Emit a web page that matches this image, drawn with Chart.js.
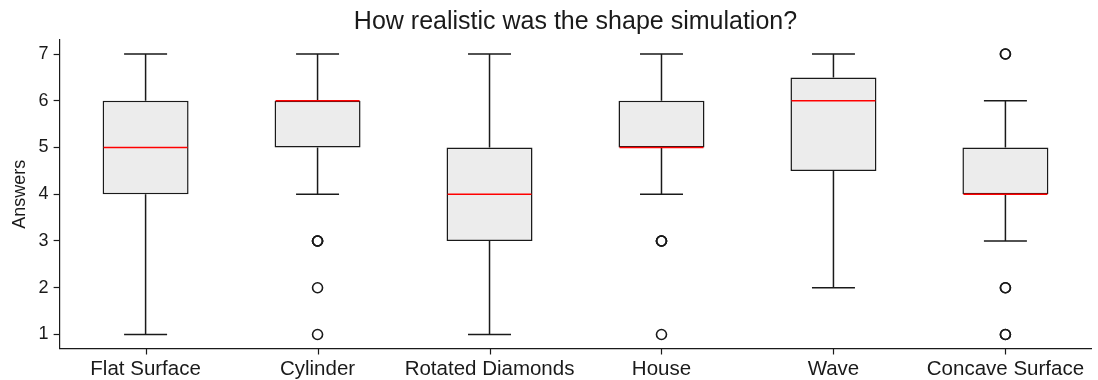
<!DOCTYPE html>
<html>
<head>
<meta charset="utf-8">
<script src="https://cdn.jsdelivr.net/npm/chart.js@4.4.1/dist/chart.umd.min.js"></script>
<style>
  html, body { margin: 0; padding: 0; background: #fff; }
  #wrap { width: 1098px; height: 380px; }
</style>
</head>
<body>
<div id="wrap"><canvas id="chartShapes"></canvas></div>
<script>
const shapes = ['Flat Surface', 'Cylinder', 'Rotated Diamonds', 'House', 'Wave', 'Concave Surface'];
const whiskerLow = [1, 4, 1, 4, 2, 3];
const quartile1 = [4, 5, 3, 5, 4.5, 4];
const medians = [5, 6, 4, 5, 6, 4];
const quartile3 = [6, 6, 5, 6, 6.5, 5];
const whiskerHigh = [7, 7, 7, 7, 7, 6];
const outliers = [
    [],
    [3, 3, 3, 2, 1],
    [],
    [3, 3, 3, 1],
    [],
    [7, 7, 2, 2, 1, 1]
];
const yTicks = [1, 2, 3, 4, 5, 6, 7];

const FONT = '"Liberation Sans", Arial, sans-serif';

const outlierPoints = [];
outliers.forEach((vals, i) => {
    vals.forEach(v => outlierPoints.push({ x: shapes[i], y: v }));
});

// whiskers, caps, median lines and x tick marks drawn from the axis scales
const boxLines = {
    id: 'boxLines',
    beforeDatasetsDraw(chart) {
        const { ctx, scales: { x, y } } = chart;
        const step = x.getPixelForValue(1) - x.getPixelForValue(0);
        ctx.save();
        ctx.strokeStyle = '#1a1a1a';
        ctx.lineWidth = 1.5;
        shapes.forEach((s, i) => {
            const cx = x.getPixelForValue(i);
            const cap = step * 0.125;
            ctx.beginPath();
            ctx.moveTo(cx, y.getPixelForValue(whiskerLow[i]));
            ctx.lineTo(cx, y.getPixelForValue(quartile1[i]));
            ctx.moveTo(cx, y.getPixelForValue(quartile3[i]));
            ctx.lineTo(cx, y.getPixelForValue(whiskerHigh[i]));
            ctx.moveTo(cx - cap, y.getPixelForValue(whiskerLow[i]));
            ctx.lineTo(cx + cap, y.getPixelForValue(whiskerLow[i]));
            ctx.moveTo(cx - cap, y.getPixelForValue(whiskerHigh[i]));
            ctx.lineTo(cx + cap, y.getPixelForValue(whiskerHigh[i]));
            ctx.stroke();
        });
        ctx.restore();
    },
    afterDatasetsDraw(chart) {
        const { ctx, chartArea, scales: { x, y } } = chart;
        const meta = chart.getDatasetMeta(0);
        ctx.save();
        ctx.strokeStyle = '#ff0000';
        ctx.lineWidth = 1.5;
        meta.data.forEach((bar, i) => {
            const half = bar.width / 2;
            const my = y.getPixelForValue(medians[i]);
            ctx.beginPath();
            ctx.moveTo(bar.x - half + 1, my);
            ctx.lineTo(bar.x + half - 1, my);
            ctx.stroke();
        });
        ctx.strokeStyle = '#1a1a1a';
        ctx.lineWidth = 1.2;
        shapes.forEach((s, i) => {
            const cx = Math.round(x.getPixelForValue(i)) + 0.5;
            ctx.beginPath();
            ctx.moveTo(cx, chartArea.bottom);
            ctx.lineTo(cx, chartArea.bottom + 6);
            ctx.stroke();
        });
        ctx.restore();
    }
};

const ctxShapes = document.getElementById('chartShapes').getContext('2d');
new Chart(ctxShapes, {
    type: 'bar',
    data: {
        labels: shapes,
        datasets: [{
            label: 'IQR',
            data: shapes.map((s, i) => [quartile1[i], quartile3[i]]),
            backgroundColor: '#ececec',
            borderColor: '#1a1a1a',
            borderWidth: 1.5,
            borderSkipped: false,
            barPercentage: 0.5,
            categoryPercentage: 1,
            order: 1
        }, {
            type: 'scatter',
            label: 'Outliers',
            data: outlierPoints,
            pointStyle: 'circle',
            pointRadius: 5,
            pointBorderWidth: 1.6,
            pointBorderColor: '#1a1a1a',
            pointBackgroundColor: 'rgba(0,0,0,0)',
            order: 0
        }]
    },
    options: {
        responsive: true,
        maintainAspectRatio: false,
        animation: false,
        layout: { padding: { top: 3, right: 3, left: 9, bottom: -5 } },
        scales: {
            x: {
                type: 'category',
                offset: true,
                grid: { display: false, drawTicks: true, tickLength: 6 },
                border: { display: true, color: '#1a1a1a', width: 1.2 },
                ticks: { color: '#1a1a1a', font: { family: FONT, size: 20.5, lineHeight: 1.0 }, padding: 5, maxRotation: 0, autoSkip: false }
            },
            y: {
                min: 0.7,
                max: 7.3,
                afterBuildTicks(axis) { axis.ticks = yTicks.map(v => ({ value: v })); },
                grid: { display: true, drawOnChartArea: false, drawTicks: true, tickLength: 6, tickColor: '#1a1a1a', tickWidth: 1.2 },
                border: { display: true, color: '#1a1a1a', width: 1.2 },
                ticks: { color: '#1a1a1a', font: { family: FONT, size: 18 }, padding: 5 },
                title: { display: true, text: 'Answers', color: '#1a1a1a', font: { family: FONT, size: 18 }, padding: { top: 0, bottom: 3 } }
            }
        },
        plugins: {
            legend: { display: false },
            tooltip: { enabled: false },
            title: {
                display: true,
                fullSize: false,
                text: 'How realistic was the shape simulation?',
                color: '#1a1a1a',
                font: { family: FONT, size: 25, weight: 'normal' },
                padding: { top: 4, bottom: 3 }
            }
        }
    },
    plugins: [boxLines]
});
</script>
</body>
</html>
